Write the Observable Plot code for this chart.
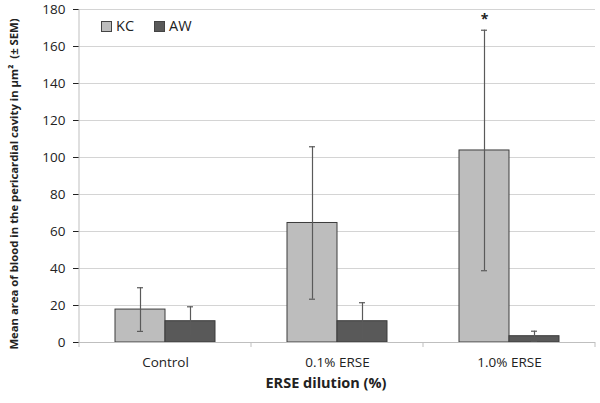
<!DOCTYPE html>
<html><head><meta charset="utf-8">
<script src="https://cdn.jsdelivr.net/npm/d3@7"></script>
<script src="https://cdn.jsdelivr.net/npm/@observablehq/plot@0.6"></script>
<style>
body{margin:0;background:#fff}
#chart{position:relative;width:600px;height:403px;font-family:"Open Sans",sans-serif}
#legend{position:absolute;left:101px;top:16px;font-size:14.5px;color:#222;display:flex;gap:0}
#legend span.sw{display:inline-block;width:9px;height:9px;border:1px solid #444;margin-right:4px;vertical-align:-1px}
#legend .it{margin-right:20px}
</style>
</head><body><div id="chart"><div id="legend"></div></div>
<script>
const groups = ["Control", "0.1% ERSE", "1.0% ERSE"];
const series = ["KC", "AW"];
const kcMean = [17.8, 64.6, 103.8];
const kcSem = [11.8, 41.2, 65.0];
const awMean = [11.5, 11.5, 3.4];
const awSem = [7.8, 10.0, 2.7];
const yTicks = [0, 20, 40, 60, 80, 100, 120, 140, 160, 180];
const colors = ["#bdbdbd", "#595959"];
const signif = [{group: "1.0% ERSE", series: "KC", label: "*"}];

const data = [];
groups.forEach((g, i) => {
  data.push({group: g, series: "KC", mean: kcMean[i], lo: kcMean[i] - kcSem[i], hi: kcMean[i] + kcSem[i]});
  data.push({group: g, series: "AW", mean: awMean[i], lo: Math.max(0, awMean[i] - awSem[i]), hi: awMean[i] + awSem[i]});
});
data.forEach(d => {
  const s = signif.find(s => s.group === d.group && s.series === d.series);
  d.label = s ? s.label : "";
});

const plot = Plot.plot({
  width: 600, height: 403,
  marginLeft: 78, marginRight: 5, marginTop: 9, marginBottom: 61,
  style: {fontFamily: "'Open Sans', sans-serif", fontSize: "13.5px", color: "#222", background: "#fff"},
  fx: {domain: groups, padding: 0, label: null, tickSize: 0, tickPadding: 15},
  x: {domain: series, paddingInner: 0, paddingOuter: 0.72, axis: null},
  y: {domain: [0, 180], ticks: yTicks, label: null, tickSize: 6, tickPadding: 8, line: false},
  color: {domain: series, range: colors},
  facet: {data: data, x: "group"},
  marks: [
    Plot.ruleY(yTicks, {stroke: "#d4d4d4", strokeWidth: 1}),
    Plot.barY(data, {x: "series", y: "mean", fill: "series", stroke: "#3c3c3c", strokeWidth: 1}),
    Plot.ruleX(data, {x: "series", y1: "lo", y2: "hi", stroke: "#5a5a5a", strokeWidth: 1.2}),
    Plot.tickY(data, {x: "series", y: "lo", stroke: "#5a5a5a", strokeWidth: 1.2, insetLeft: 22, insetRight: 22}),
    Plot.tickY(data, {x: "series", y: "hi", stroke: "#5a5a5a", strokeWidth: 1.2, insetLeft: 22, insetRight: 22}),
    Plot.text(data, {x: "series", y: "hi", text: "label", dy: -11, fontSize: 14, fontWeight: "bold", fill: "#222"}),
    Plot.ruleY([0], {stroke: "#bfbfbf"})
  ]
});

const svg = d3.select(plot);
const fx = plot.scale("fx");
const yS = plot.scale("y");
const y0 = yS.apply(0), yTop = yS.apply(180);
const left = fx.apply(groups[0]);
// y-axis line
svg.append("line").attr("x1", left).attr("x2", left).attr("y1", yTop).attr("y2", y0 + 5).attr("stroke", "#bfbfbf");
// category boundary ticks
groups.forEach(g => {
  const xr = fx.apply(g) + fx.bandwidth;
  svg.append("line").attr("x1", xr).attr("x2", xr).attr("y1", y0).attr("y2", y0 + 5).attr("stroke", "#bfbfbf");
});
// y axis title
svg.append("text").attr("transform", `translate(18,184) rotate(-90)`)
  .attr("text-anchor", "middle").attr("font-size", 11.3).attr("font-weight", "bold").attr("fill", "#222")
  .text("Mean area of blood in the pericardial cavity in \u00b5m\u00b2  (\u00b1 SEM)");
// x axis title
svg.append("text").attr("x", 326).attr("y", 388)
  .attr("text-anchor", "middle").attr("font-size", 14.5).attr("font-weight", "bold").attr("fill", "#222")
  .text("ERSE dilution (%)");

document.getElementById("chart").prepend(plot);
const leg = document.getElementById("legend");
series.forEach((s, i) => {
  const it = document.createElement("div");
  it.className = "it";
  it.innerHTML = `<span class="sw" style="background:${colors[i]}"></span>${s}`;
  leg.appendChild(it);
});
</script>
</body></html>
